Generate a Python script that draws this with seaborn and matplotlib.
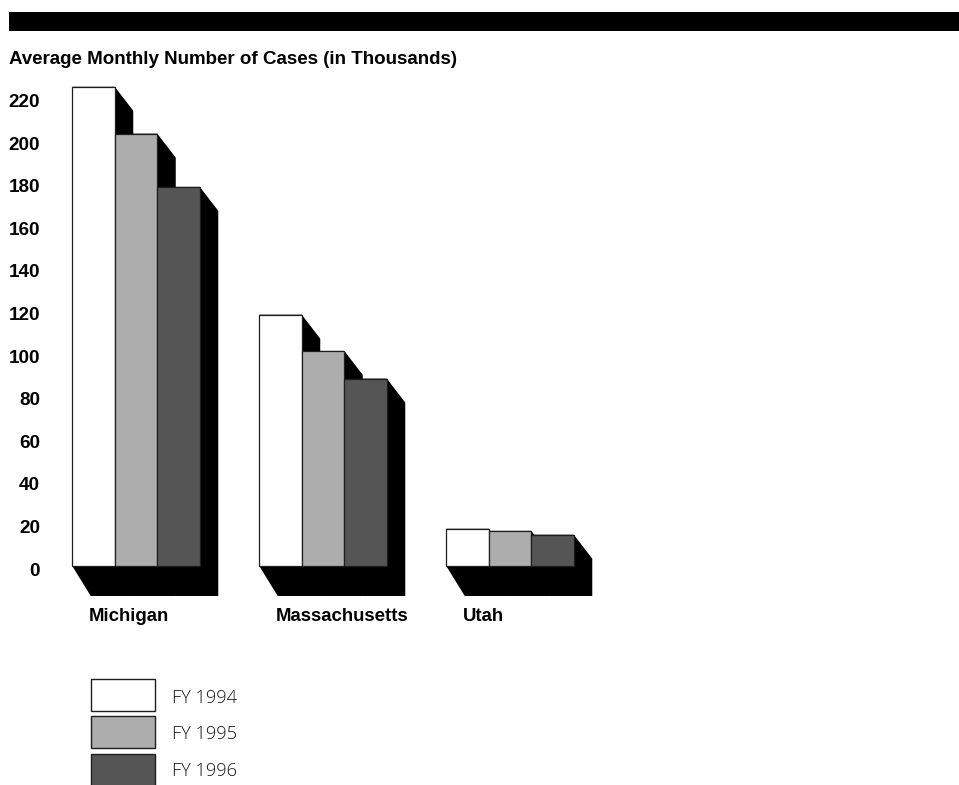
import matplotlib
matplotlib.use("Agg")
import matplotlib.pyplot as plt
from matplotlib.patches import Polygon, Rectangle
from matplotlib.transforms import ScaledTranslation
import pandas as pd
import seaborn as sns

# ---- data -------------------------------------------------------------
states = ["Michigan", "Massachusetts", "Utah"]
years = ["FY 1994", "FY 1995", "FY 1996"]
cases_fy1994 = [225, 118, 17.5]
cases_fy1995 = [203, 101, 16.5]
cases_fy1996 = [178, 88, 14.7]
y_ticks = [0, 20, 40, 60, 80, 100, 120, 140, 160, 180, 200, 220]
title = "Average Monthly Number of Cases (in Thousands)"

colors = ["#ffffff", "#adadad", "#555555"]

df = pd.DataFrame({
    "state": states * 3,
    "year": [years[0]] * 3 + [years[1]] * 3 + [years[2]] * 3,
    "cases": cases_fy1994 + cases_fy1995 + cases_fy1996,
})

# ---- figure layout (pixel based) --------------------------------------
W, H = 959, 785
sns.set_theme(style="white")
plt.rcParams["font.family"] = ["Liberation Sans", "DejaVu Sans"]

fig = plt.figure(figsize=(W / 100, H / 100), dpi=100)
fig.patch.set_facecolor("white")

def fx(px):
    return px / W

def fy(py):
    return 1 - py / H

ax_left, ax_right, ax_top, ax_bottom = 50, 959, 70, 640
ax = fig.add_axes([fx(ax_left), fy(ax_bottom), fx(ax_right - ax_left),
                   (ax_bottom - ax_top) / H])

cat_spacing = 187.0     # pixels between group centres
first_center = 136.0    # pixel x of the first group centre
zero_y = 566.0          # pixel y of the value 0
px_per_unit = 2.13      # pixels per thousand cases
group_width = 0.682

sns.barplot(data=df, x="state", y="cases", hue="year", palette=colors,
            width=group_width, saturation=1, errorbar=None,
            edgecolor="#1e1e1e", linewidth=0.9, legend=False, ax=ax)

ax.set_xlim((ax_left - first_center) / cat_spacing,
            (ax_right - first_center) / cat_spacing)
ax.set_ylim((zero_y - ax_bottom) / px_per_unit, (zero_y - ax_top) / px_per_unit)

# ---- drop shadows behind each bar -------------------------------------
dx = 18.5 / cat_spacing
dy_top = 24 / px_per_unit
dy_bot = 30 / px_per_unit
bars = [p for p in ax.patches if isinstance(p, Rectangle)]
for p in bars:
    x0 = p.get_x()
    x1 = x0 + p.get_width()
    h = p.get_height()
    shadow = Polygon([(x0, h), (x0, 0), (x0 + dx, -dy_bot), (x1 + dx, -dy_bot),
                      (x1 + dx, h - dy_top), (x1, h)],
                     closed=True, facecolor="black", edgecolor="none", zorder=0.5)
    ax.add_patch(shadow)
for p in bars:
    p.set_zorder(2)

# ---- axes styling ------------------------------------------------------
for s in ax.spines.values():
    s.set_visible(False)
ax.set_xlabel("")
ax.set_ylabel("")
ax.set_xticks([])
ax.set_yticks(y_ticks)
ax.set_yticklabels([str(v) for v in y_ticks], fontsize=13.6, fontweight="bold",
                   color="black")
ax.tick_params(axis="y", length=0, pad=7.2)
ax.grid(False)
ax.set_facecolor("none")
nudge = ScaledTranslation(0, -3 / 100, fig.dpi_scale_trans)
for lbl in ax.get_yticklabels():
    lbl.set_transform(lbl.get_transform() + nudge)

# group names, left-aligned under each group's shadow
label_off = 16.5 / cat_spacing
label_y = (zero_y - 620.7) / px_per_unit
for i, name in enumerate(states):
    ax.text(i - group_width / 2 + label_off, label_y, name, ha="left",
            va="baseline", fontsize=13.4, fontweight="bold", color="black")

# ---- banner and title --------------------------------------------------
fig.add_artist(Rectangle((fx(9), fy(31)), fx(W - 9 + 1), (31 - 12) / H,
                         transform=fig.transFigure, facecolor="black",
                         edgecolor="none"))
fig.text(fx(9), fy(63.5), title, ha="left", va="baseline", fontsize=13.5,
         fontweight="bold", color="black")

# ---- legend ------------------------------------------------------------
box_left, box_w, box_h = 91, 64, 32
for i, (yr, c) in enumerate(zip(years, colors)):
    top = 679 + i * 37.3
    fig.add_artist(Rectangle((fx(box_left), fy(top + box_h)), fx(box_w), box_h / H,
                             transform=fig.transFigure, facecolor=c,
                             edgecolor="#1e1e1e", linewidth=1.0))
    fig.text(fx(172), fy(702.7 + i * 36.7), yr, ha="left", va="baseline",
             fontsize=13.1, fontweight="light", color="#111111",
             family=["Open Sans", "DejaVu Sans"])

fig.savefig("out.png", dpi=100)
